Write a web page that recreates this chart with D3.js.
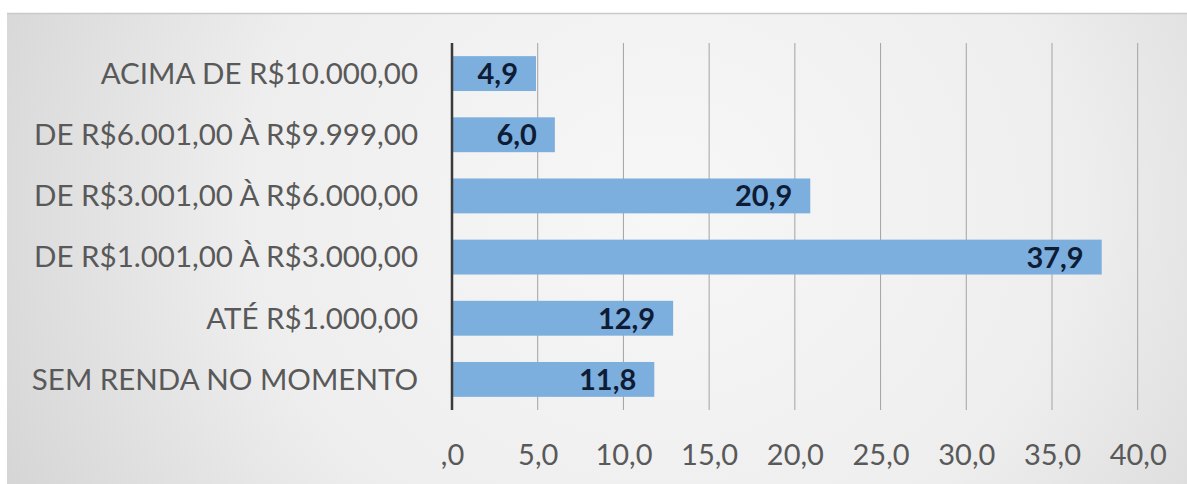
<!DOCTYPE html>
<html><head><meta charset="utf-8">
<script src="https://cdn.jsdelivr.net/npm/d3@7"></script>
<style>html,body{margin:0;padding:0;background:#fff;}svg{display:block;}</style>
</head><body>
<svg id="c" width="1187" height="484"></svg>
<script>
const categories = ["ACIMA DE R$10.000,00","DE R$6.001,00 À R$9.999,00","DE R$3.001,00 À R$6.000,00","DE R$1.001,00 À R$3.000,00","ATÉ R$1.000,00","SEM RENDA NO MOMENTO"];
const values = [4.9, 6.0, 20.9, 37.9, 12.9, 11.8];
const valueLabels = ["4,9","6,0","20,9","37,9","12,9","11,8"];
const ticks = [0,5,10,15,20,25,30,35,40];
const tickLabels = [",0","5,0","10,0","15,0","20,0","25,0","30,0","35,0","40,0"];

const svg = d3.select("#c");
const defs = svg.append("defs");
const rg = defs.append("radialGradient").attr("id","bg").attr("cx","0.55").attr("cy","0.4").attr("r","0.7")
  .attr("gradientTransform","translate(0.55,0.4) scale(1,2.2) translate(-0.55,-0.4)");
rg.append("stop").attr("offset","0").attr("stop-color","#f7f7f7");
rg.append("stop").attr("offset","0.5").attr("stop-color","#eeeeee");
rg.append("stop").attr("offset","1").attr("stop-color","#cdcdcd");
svg.append("rect").attr("x",7).attr("y",13).attr("width",1190).attr("height",480).attr("fill","url(#bg)");
svg.append("line").attr("x1",7).attr("x2",1187).attr("y1",13.5).attr("y2",13.5).attr("stroke","#c9c9c9").attr("stroke-width",1.5);

const x = d3.scaleLinear().domain([0,40]).range([452,1137.7]);
const y = d3.scaleBand().domain(categories).range([43,410]).paddingInner(0.43).paddingOuter(0.215);

const font = "Lato, 'Open Sans', sans-serif";

// gridlines
svg.append("g").selectAll("line").data(ticks.slice(1)).join("line")
  .attr("x1",d=>x(d)).attr("x2",d=>x(d)).attr("y1",43).attr("y2",410)
  .attr("stroke","#a3a3a3").attr("stroke-width",1);

// bars
svg.append("g").selectAll("rect").data(values).join("rect")
  .attr("x",x(0)).attr("y",(d,i)=>y(categories[i]))
  .attr("width",d=>x(d)-x(0)).attr("height",y.bandwidth())
  .attr("fill","#7cafdd");

// axis line
svg.append("line").attr("x1",x(0)).attr("x2",x(0)).attr("y1",43).attr("y2",410)
  .attr("stroke","#3a3a3a").attr("stroke-width",2.5);

// x axis
const xa = svg.append("g").attr("transform","translate(0,410)")
  .call(d3.axisBottom(x).tickValues(ticks).tickFormat((d,i)=>tickLabels[i]).tickSize(0).tickPadding(34));
xa.select(".domain").remove();
xa.selectAll("text").attr("font-family",font).attr("font-size",29).attr("fill","#595959");

// y axis labels
const ya = svg.append("g").attr("transform","translate(418,0)")
  .call(d3.axisLeft(y).tickSize(0).tickPadding(0));
ya.select(".domain").remove();
ya.selectAll("text").attr("font-family",font).attr("font-size",29.5).attr("fill","#595959").attr("dy","0.35em");

// value labels
svg.append("g").selectAll("text").data(values).join("text")
  .attr("x",d=>x(d)-18).attr("y",(d,i)=>y(categories[i])+y.bandwidth()/2)
  .attr("dy","0.36em").attr("text-anchor","end")
  .attr("font-family",font).attr("font-weight","bold").attr("font-size",29).attr("fill","#0f1c36")
  .text((d,i)=>valueLabels[i]);
</script>
</body></html>
